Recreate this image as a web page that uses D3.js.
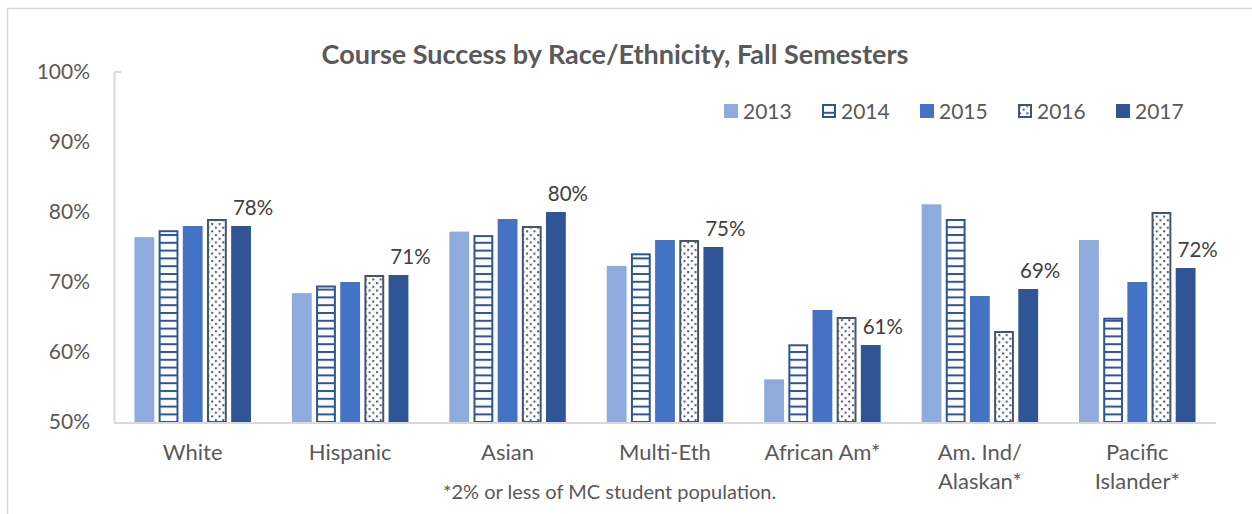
<!DOCTYPE html>
<html>
<head>
<meta charset="utf-8">
<script src="https://cdn.jsdelivr.net/npm/d3@7"></script>
<style>
  html, body { margin: 0; padding: 0; background: #fff; }
  svg { display: block; font-family: Lato, "Open Sans", sans-serif; }
</style>
</head>
<body>
<svg id="chart" width="1252" height="514"></svg>
<script>
// Course success rate (%) by group, fall semesters 2013-2017
const categories = ["White", "Hispanic", "Asian", "Multi-Eth", "African Am*", "Am. Ind/\nAlaskan*", "Pacific\nIslander*"];
const years = ["2013", "2014", "2015", "2016", "2017"];
const values2013 = [76.4, 68.4, 77.2, 72.3, 56.1, 81.1, 76.0];
const values2014 = [77.4, 69.5, 76.7, 74.1, 61.1, 79.0, 64.9];
const values2015 = [78.0, 70.0, 79.0, 76.0, 66.0, 68.0, 70.0];
const values2016 = [79.0, 71.0, 78.0, 76.0, 65.0, 63.0, 80.0];
const values2017 = [78, 71, 80, 75, 61, 69, 72];
const yTicks = [50, 60, 70, 80, 90, 100];
const title = "Course Success by Race/Ethnicity, Fall Semesters";
const footnote = "*2% or less of MC student population.";

const seriesByYear = { "2013": values2013, "2014": values2014, "2015": values2015, "2016": values2016, "2017": values2017 };

const svg = d3.select("#chart");
const W = 1252, H = 514;
const plot = { left: 114, right: 1216, top: 72, bottom: 422 };

// Fill styles: solid blues plus two patterned series
const defs = svg.append("defs");
const stripes = defs.append("pattern").attr("id", "pat-stripes")
  .attr("patternUnits", "userSpaceOnUse").attr("width", 8).attr("height", 7.8);
stripes.append("rect").attr("width", 8).attr("height", 7.8).attr("fill", "#fff");
stripes.append("rect").attr("y", 0).attr("width", 8).attr("height", 2).attr("fill", "#2F5597");

const dots = defs.append("pattern").attr("id", "pat-dots")
  .attr("patternUnits", "userSpaceOnUse").attr("width", 7.4).attr("height", 7.4);
dots.append("rect").attr("width", 7.4).attr("height", 7.4).attr("fill", "#fff");
dots.append("rect").attr("x", 1).attr("y", 1).attr("width", 2).attr("height", 2).attr("fill", "#44546A");
dots.append("rect").attr("x", 4.7).attr("y", 4.7).attr("width", 2).attr("height", 2).attr("fill", "#44546A");

const style = {
  "2013": { fill: "#8FAADC", stroke: "none", sw: 0 },
  "2014": { fill: "url(#pat-stripes)", stroke: "#2F5597", sw: 2 },
  "2015": { fill: "#4472C4", stroke: "none", sw: 0 },
  "2016": { fill: "url(#pat-dots)", stroke: "#44546A", sw: 2 },
  "2017": { fill: "#2F5597", stroke: "none", sw: 0 }
};

// Outer chart frame
svg.append("rect").attr("x", 7.5).attr("y", 8.5).attr("width", W + 20).attr("height", H + 20)
  .attr("fill", "none").attr("stroke", "#D9D9D9").attr("stroke-width", 1.5);

// Scales
const x0 = d3.scaleBand().domain(categories).range([plot.left, plot.right]).padding(0);
const x1 = d3.scaleBand().domain(years)
  .range([x0.bandwidth() * 0.13, x0.bandwidth() * 0.87]).paddingInner(0.18).paddingOuter(0);
const y = d3.scaleLinear().domain([50, 100]).range([plot.bottom, plot.top]);

// Title
svg.append("text").attr("x", 615).attr("y", 64).attr("text-anchor", "middle")
  .attr("font-size", 27).attr("font-weight", "bold").attr("fill", "#595959").text(title);

// Y axis
const yAxis = svg.append("g").attr("transform", `translate(${plot.left},0)`)
  .call(d3.axisLeft(y).tickValues(yTicks).tickFormat(d => d + "%").tickSize(0).tickPadding(24));
yAxis.select(".domain").attr("stroke", "#D9D9D9").attr("stroke-width", 2);
yAxis.selectAll("text").attr("font-size", 21).attr("fill", "#595959")
  .attr("font-family", "Lato, 'Open Sans', sans-serif");
svg.append("line").attr("x1", plot.left).attr("x2", plot.left + 7)
  .attr("y1", y(100)).attr("y2", y(100)).attr("stroke", "#D9D9D9").attr("stroke-width", 2);

// Bars
const groups = svg.append("g").selectAll("g").data(categories).join("g")
  .attr("transform", c => `translate(${x0(c)},0)`);

groups.each(function (c, i) {
  const g = d3.select(this);
  years.forEach(yr => {
    const v = seriesByYear[yr][i];
    const s = style[yr];
    const inset = s.sw / 2;
    g.append("rect")
      .attr("x", x1(yr) + inset)
      .attr("y", y(v) + inset)
      .attr("width", x1.bandwidth() - s.sw)
      .attr("height", y(50) - y(v) - s.sw + (s.sw ? 1 : 0))
      .attr("fill", s.fill)
      .attr("stroke", s.stroke)
      .attr("stroke-width", s.sw);
  });
});

// X axis line
svg.append("line").attr("x1", plot.left).attr("x2", plot.right)
  .attr("y1", plot.bottom + 1).attr("y2", plot.bottom + 1)
  .attr("stroke", "#D9D9D9").attr("stroke-width", 2);

// Data labels for the latest year
svg.append("g").selectAll("text").data(categories).join("text")
  .attr("x", (c, i) => x0(c) + x1("2017") + x1.bandwidth() / 2 + 12)
  .attr("y", (c, i) => y(values2017[i]) - 11)
  .attr("text-anchor", "middle").attr("font-size", 20.5).attr("fill", "#404040")
  .text((c, i) => values2017[i] + "%");

// Category labels (multi-line)
const catLabels = svg.append("g").selectAll("text").data(categories).join("text")
  .attr("x", c => x0(c) + x0.bandwidth() / 2)
  .attr("y", 460)
  .attr("text-anchor", "middle").attr("font-size", 22).attr("fill", "#595959");
catLabels.each(function (c) {
  const t = d3.select(this);
  c.split("\n").forEach((line, k) => {
    t.append("tspan").attr("x", x0(c) + x0.bandwidth() / 2).attr("dy", k === 0 ? 0 : 29).text(line);
  });
});

// Footnote
svg.append("text").attr("x", 443).attr("y", 499).attr("font-size", 20)
  .attr("fill", "#595959").text(footnote);

// Legend
const legend = svg.append("g").selectAll("g").data(years).join("g")
  .attr("transform", (d, i) => `translate(${724 + i * 98},104)`);
legend.append("rect")
  .attr("x", d => style[d].sw / 2).attr("y", d => style[d].sw / 2)
  .attr("width", d => 14 - style[d].sw).attr("height", d => 14 - style[d].sw)
  .attr("fill", d => style[d].fill).attr("stroke", d => style[d].stroke)
  .attr("stroke-width", d => style[d].sw);
legend.append("text").attr("x", 19).attr("y", 15)
  .attr("font-size", 21).attr("fill", "#595959").text(d => d);
</script>
</body>
</html>
